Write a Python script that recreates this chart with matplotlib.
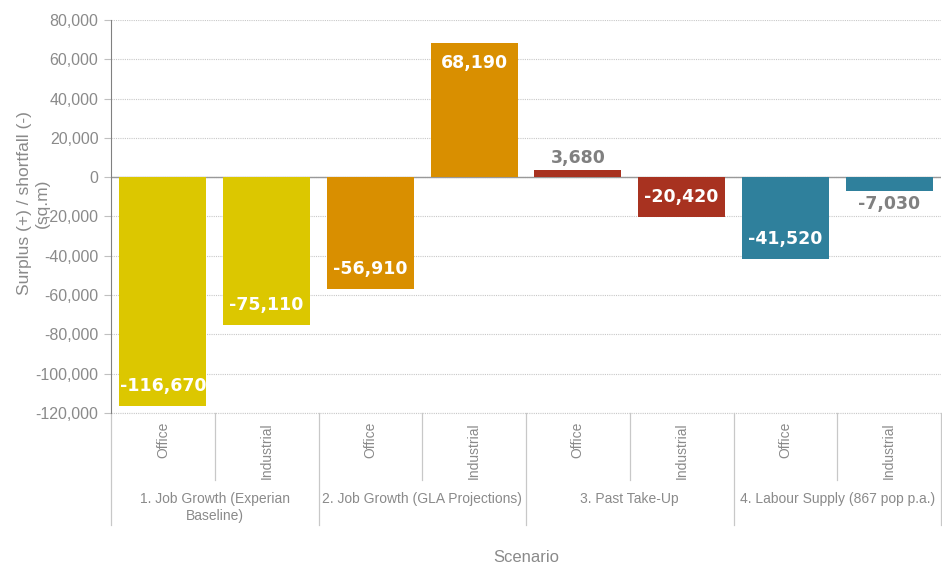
import matplotlib
matplotlib.use("Agg")
import matplotlib.pyplot as plt
from matplotlib.ticker import FuncFormatter

plt.rcParams['font.family'] = ['Liberation Sans', 'DejaVu Sans']

scenarios = ["1. Job Growth (Experian\nBaseline)", "2. Job Growth (GLA Projections)",
             "3. Past Take-Up", "4. Labour Supply (867 pop p.a.)"]
uses = ["Office", "Industrial"]
values = [-116670, -75110, -56910, 68190, 3680, -20420, -41520, -7030]
colors = ["#dcc700", "#dcc700", "#d98f00", "#d98f00", "#a83220", "#a83220", "#2f809c", "#2f809c"]
# labels drawn inside the bar (white) or outside (grey)
inside = [True, True, True, True, False, True, True, False]
yticks = [80000, 60000, 40000, 20000, 0, -20000, -40000, -60000, -80000, -100000, -120000]

W, H = 942, 566
fig = plt.figure(figsize=(W / 100, H / 100), dpi=100)
x0, x1, y0, y1 = 111, 941, 20, 413
ax = fig.add_axes([x0 / W, 1 - y1 / H, (x1 - x0) / W, (y1 - y0) / H])

n = len(values)
xs = list(range(n))
ax.bar(xs, values, width=0.84, color=colors, zorder=3)
ax.set_xlim(-0.5, n - 0.5)
ax.set_ylim(-120000, 80000)
ax.set_yticks(yticks)
ax.yaxis.set_major_formatter(FuncFormatter(lambda v, p: f"{int(v):,}"))
ax.tick_params(axis='y', colors='#c0c0c0', labelcolor='#8a8a8a', labelsize=11.5,
               length=5, width=0.8, pad=4)
ax.set_xticks([])
ax.grid(axis='y', color='#c8c8c8', linestyle=(0, (1, 1)), linewidth=0.8, zorder=0)
for s in ['top', 'right', 'bottom']:
    ax.spines[s].set_visible(False)
ax.spines['left'].set_color('#808080')
ax.axhline(0, color='#999999', linewidth=1, zorder=2)

for x, v, c, ins in zip(xs, values, colors, inside):
    txt = f"{v:,}"
    if ins:
        off = 14.4 if v < 0 else -14.4
        ax.annotate(txt, (x, v), xytext=(0, off), textcoords='offset points',
                    ha='center', va='center', color='white', fontsize=12.5,
                    fontweight='bold', family='DejaVu Sans', zorder=4)
    else:
        off = 8.5 if v >= 0 else -9.5
        ax.annotate(txt, (x, v), xytext=(0, off), textcoords='offset points',
                    ha='center', va='center', color='#808080', fontsize=12.5,
                    fontweight='bold', family='DejaVu Sans', zorder=4)

ax.set_ylabel("Surplus (+) / shortfall (-)\n(sq.m)", color='#8a8a8a', fontsize=12.5,
              linespacing=1.25)
ax.yaxis.set_label_coords((50 - x0) / (x1 - x0), 1 - (203 - y0) / (y1 - y0))

# category axis drawn below the plot
trans = ax.get_xaxis_transform()
def fy(py):
    return 1 - (py - y0) / (y1 - y0)
line_kw = dict(color='#c8c8c8', linewidth=0.9, transform=trans, clip_on=False)
ax.plot([-0.5, n - 0.5], [0, 0], color='#c8c8c8', linestyle=(0, (1, 1)), linewidth=0.8,
        transform=trans, clip_on=False)
for k in range(n + 1):
    xb = k - 0.5
    bottom = 525 if k % 2 == 0 else 480
    ax.plot([xb, xb], [0, fy(bottom)], **line_kw)
    if 0 < k < n:
        ax.plot([xb, xb], [fy(177), fy(181)], color='#c8c8c8', linewidth=0.9, zorder=2)
for i, x in enumerate(xs):
    ax.text(x, fy(422), uses[i % 2], rotation=90, ha='center', va='top',
            color='#8a8a8a', fontsize=10, transform=trans)
for g, name in enumerate(scenarios):
    ax.text(2 * g + 0.5, fy(492), name, ha='center', va='top', color='#8a8a8a',
            fontsize=10, linespacing=1.3, transform=trans)
ax.text((n - 1) / 2, fy(558), "Scenario", ha='center', va='center', color='#8a8a8a',
        fontsize=12, transform=trans)

fig.savefig("out.png", dpi=100, facecolor='white')
